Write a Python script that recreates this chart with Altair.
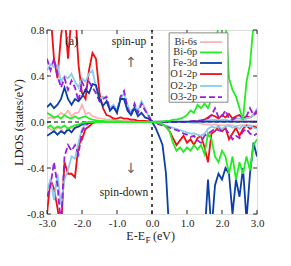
import altair as alt
import pandas as pd

# Energy grid (eV)
E = [-3.0, -2.9, -2.8, -2.7, -2.6, -2.5, -2.4, -2.3, -2.2, -2.1,
     -2.0, -1.9, -1.8, -1.7, -1.6, -1.5, -1.4, -1.3, -1.2, -1.1,
     -1.0, -0.9, -0.8, -0.7, -0.6, -0.5, -0.4, -0.3, -0.2, -0.1,
     0.0, 0.1, 0.2, 0.3, 0.4, 0.5, 0.6, 0.7, 0.8, 0.9,
     1.0, 1.1, 1.2, 1.3, 1.4, 1.5, 1.6, 1.7, 1.8, 1.9,
     2.0, 2.1, 2.2, 2.3, 2.4, 2.5, 2.6, 2.7, 2.8, 2.9, 3.0]

bi6s_up = [0.03, 0.04, 0.03, 0.05, 0.08, 0.06, 0.1, 0.05, 0.08, 0.08,
           0.15, 0.07, 0.08, 0.05, 0.04, 0.03, 0.03, 0.02, 0.02, 0.02,
           0.01, 0.01, 0.01, 0.01, 0.01, 0.01, 0.005, 0.005, 0.005, 0.005,
           0.0, 0.0, 0.0, 0.0, 0.0, 0.0, 0.0, 0.0, 0.0, 0.0,
           0.0, 0.005, 0.005, 0.005, 0.005, 0.005, 0.005, 0.005, 0.005, 0.005,
           0.005, 0.005, 0.005, 0.005, 0.005, 0.005, 0.005, 0.005, 0.005, 0.005, 0.005]
bi6s_dn = [-0.05, -0.06, -0.08, -0.05, -0.06, -0.1, -0.07, -0.05, -0.06, -0.03,
           -0.03, -0.02, -0.01, -0.01, -0.005, 0.0, 0.0, 0.0, 0.0, 0.0,
           0.0, 0.0, 0.0, 0.0, 0.0, 0.0, 0.0, 0.0, 0.0, 0.0,
           0.0, 0.0, 0.0, 0.0, 0.0, 0.0, 0.0, 0.0, 0.0, 0.0,
           0.0, -0.005, -0.01, -0.01, -0.015, -0.02, -0.02, -0.025, -0.02, -0.03,
           -0.03, -0.03, -0.025, -0.03, -0.035, -0.03, -0.03, -0.025, -0.03, -0.035, -0.03]
bi6p_up = [0.08, 0.06, 0.04, 0.05, 0.03, 0.06, 0.04, 0.03, 0.05, 0.03,
           0.04, 0.05, 0.03, 0.02, 0.015, 0.01, 0.01, 0.005, 0.005, 0.005,
           0.005, 0.005, 0.0, 0.0, 0.0, 0.0, 0.0, 0.0, 0.0, 0.0,
           0.0, 0.0, 0.0, 0.005, 0.01, 0.01, 0.02, 0.02, 0.03, 0.04,
           0.06, 0.1, 0.08, 0.15, 0.12, 0.16, 0.12, 0.2, 0.45, 0.9,
           1.0, 0.9, 0.38, 0.28, 0.22, 0.12, 0.02, 0.35, 0.5, 0.85, 1.0]
bi6p_dn = [-0.05, -0.03, -0.06, -0.04, -0.05, -0.03, -0.06, -0.04, -0.03, -0.02,
           -0.01, -0.005, 0.0, 0.0, 0.0, 0.0, 0.0, 0.0, 0.0, 0.0,
           0.0, 0.0, 0.0, 0.0, 0.0, 0.0, 0.0, 0.0, 0.0, 0.0,
           0.0, 0.0, -0.01, -0.02, -0.04, -0.08, -0.18, -0.25, -0.22, -0.26,
           -0.22, -0.25, -0.2, -0.24, -0.2, -0.28, -0.1, -0.15, -0.3, -0.35,
           -0.25, -0.3, -0.45, -0.3, -0.5, -0.35, -0.45, -0.3, -0.42, -0.2, -0.15]
fe3d_up = [0.13, 0.16, 0.12, 0.15, 0.2, 0.3, 0.2, 0.15, 0.2, 0.18,
           0.22, 0.28, 0.25, 0.33, 0.32, 0.2, 0.14, 0.18, 0.1, 0.13,
           0.08, 0.2, 0.2, 0.1, 0.06, 0.12, 0.05, 0.08, 0.04, 0.03,
           0.0, 0.003, 0.003, 0.003, 0.003, 0.003, 0.003, 0.003, 0.003, 0.003,
           0.003, 0.003, 0.003, 0.003, 0.003, 0.003, 0.003, 0.003, 0.003, 0.003,
           0.003, 0.003, 0.003, 0.003, 0.003, 0.003, 0.003, 0.003, 0.003, 0.003, 0.003]
fe3d_dn = [-0.12, -0.1, -0.08, -0.11, -0.08, -0.1, -0.06, -0.09, -0.05, -0.04,
           -0.02, -0.01, -0.005, 0.0, 0.0, 0.0, 0.0, 0.0, 0.0, 0.0,
           0.0, 0.0, 0.0, 0.0, 0.0, 0.0, 0.0, 0.0, 0.0, 0.0,
           0.0, -0.05, -0.12, -0.2, -0.45, -1.0, -1.0, -1.0, -1.0, -1.0,
           -1.0, -1.0, -1.0, -1.0, -1.0, -1.0, -0.5, -0.95, -0.55, -0.45,
           -0.5, -0.4, -0.45, -0.8, -0.5, -0.65, -0.4, -0.85, -0.45, -0.18, -0.3]
o1_up = [0.85, 0.95, 0.55, 0.38, 0.75, 0.95, 0.55, 0.92, 1.0, 0.5,
         0.25, 0.2, 0.45, 0.6, 0.55, 0.25, 0.12, 0.06, 0.05, 0.03,
         0.03, 0.04, 0.03, 0.03, 0.02, 0.02, 0.01, 0.01, 0.01, 0.005,
         0.0, 0.0, 0.0, 0.0, 0.0, 0.0, 0.0, 0.0, 0.0, 0.0,
         0.0, 0.0, 0.005, 0.01, 0.01, 0.02, 0.04, 0.06, 0.05, 0.03,
         0.06, 0.04, 0.07, 0.03, 0.05, 0.06, 0.03, 0.05, 0.04, 0.06, 0.08]
o1_dn = [-0.8, -0.5, -0.58, -0.75, -0.95, -0.35, -0.45, -0.45, -0.48, -0.2,
         -0.15, -0.06, -0.04, -0.01, 0.0, 0.0, 0.0, 0.0, 0.0, 0.0,
         0.0, 0.0, 0.0, 0.0, 0.0, 0.0, 0.0, 0.0, 0.0, 0.0,
         0.0, -0.005, -0.01, -0.02, -0.04, -0.08, -0.14, -0.2, -0.16, -0.12,
         -0.18, -0.15, -0.2, -0.14, -0.12, -0.22, -0.35, -0.1, -0.08, -0.04,
         -0.08, -0.05, -0.15, -0.1, -0.05, -0.12, -0.06, -0.03, -0.06, -0.04, -0.05]
o2_up = [0.45, 0.5, 0.48, 0.5, 0.35, 0.4, 0.38, 0.42, 0.35, 0.3,
         0.38, 0.35, 0.42, 0.45, 0.3, 0.2, 0.22, 0.2, 0.12, 0.15,
         0.1, 0.2, 0.25, 0.15, 0.08, 0.14, 0.1, 0.18, 0.12, 0.05,
         0.0, 0.0, 0.0, 0.0, 0.0, 0.0, 0.0, 0.0, 0.0, 0.0,
         0.0, 0.0, 0.0, 0.005, 0.005, 0.01, 0.01, 0.02, 0.02, 0.01,
         0.02, 0.02, 0.01, 0.02, 0.03, 0.03, 0.02, 0.03, 0.04, 0.06, 0.12]
o2_dn = [-0.6, -0.5, -0.68, -0.45, -0.72, -0.5, -0.42, -0.3, -0.32, -0.18,
         -0.06, -0.02, -0.01, 0.0, 0.0, 0.0, 0.0, 0.0, 0.0, 0.0,
         0.0, 0.0, 0.0, 0.0, 0.0, 0.0, 0.0, 0.0, 0.0, 0.0,
         0.0, -0.005, -0.01, -0.02, -0.03, -0.04, -0.05, -0.06, -0.07, -0.08,
         -0.09, -0.1, -0.1, -0.11, -0.12, -0.1, -0.06, -0.04, -0.05, -0.04,
         -0.06, -0.04, -0.03, -0.05, -0.04, -0.06, -0.03, -0.04, -0.03, -0.05, -0.06]
o3_up = [0.55, 0.45, 0.55, 0.4, 0.3, 0.38, 0.28, 0.36, 0.3, 0.18,
         0.35, 0.28, 0.35, 0.3, 0.25, 0.18, 0.2, 0.22, 0.1, 0.14,
         0.08, 0.22, 0.27, 0.12, 0.06, 0.16, 0.08, 0.16, 0.1, 0.06,
         0.0, 0.0, 0.0, 0.0, 0.0, 0.0, 0.0, 0.0, 0.0, 0.0,
         0.0, 0.005, 0.01, 0.01, 0.015, 0.02, 0.03, 0.06, 0.12, 0.04,
         0.05, 0.1, 0.03, 0.02, 0.04, 0.06, 0.03, 0.05, 0.12, 0.06, 0.1]
o3_dn = [-0.65, -0.55, -0.35, -0.55, -0.9, -0.3, -0.2, -0.25, -0.2, -0.28,
         -0.08, -0.03, -0.01, 0.0, 0.0, 0.0, 0.0, 0.0, 0.0, 0.0,
         0.0, 0.0, 0.0, 0.0, 0.0, 0.0, 0.0, 0.0, 0.0, 0.0,
         0.0, -0.005, -0.02, -0.03, -0.04, -0.05, -0.06, -0.07, -0.08, -0.1,
         -0.11, -0.13, -0.12, -0.16, -0.18, -0.12, -0.1, -0.08, -0.06, -0.07,
         -0.08, -0.06, -0.1, -0.15, -0.12, -0.14, -0.08, -0.06, -0.1, -0.12, -0.1]

labels = ["Bi-6s", "Bi-6p", "Fe-3d", "O1-2p", "O2-2p", "O3-2p"]
colors = ["#ffb3b8", "#22ee22", "#0a3fa8", "#ee1111", "#88ccee", "#9a1ee0"]
series = {
    "Bi-6s": (bi6s_up, bi6s_dn),
    "Bi-6p": (bi6p_up, bi6p_dn),
    "Fe-3d": (fe3d_up, fe3d_dn),
    "O1-2p": (o1_up, o1_dn),
    "O2-2p": (o2_up, o2_dn),
    "O3-2p": (o3_up, o3_dn),
}
draw_order = ["Bi-6s", "O1-2p", "O2-2p", "O3-2p", "Fe-3d", "Bi-6p"]

x_ticks = [-3.0, -2.0, -1.0, 0.0, 1.0, 2.0, 3.0]
y_ticks = [-0.8, -0.4, 0.0, 0.4, 0.8]

FONT = "Liberation Serif"
xs = alt.Scale(domain=[-3, 3], nice=False, zero=False)
ys = alt.Scale(domain=[-0.8, 0.8], nice=False, zero=False)
LBL = "datum.value < 0 ? '-' + format(-datum.value, '.1f') : format(datum.value, '.1f')"
AXX = alt.Axis(values=x_ticks, labelExpr=LBL)
AXY = alt.Axis(values=y_ticks, labelExpr=LBL, titleX=-22, titleY=92)

rows = []
for name, (up, dn) in series.items():
    for e, v in zip(E, up):
        rows.append({"series": name, "spin": "up", "E": e, "v": v})
    for e, v in zip(E, dn):
        rows.append({"series": name, "spin": "down", "E": e, "v": v})
df = pd.DataFrame(rows)


def X(field):
    return alt.X(field, scale=xs, axis=AXX, title=None)


def Y(field):
    return alt.Y(field, scale=ys, axis=AXY, title="LDOS (states/eV)")


layers = []
zero_df = pd.DataFrame({"E": [-3.0, 3.0], "v": [0.0, 0.0]})
layers.append(alt.Chart(zero_df).mark_line(color="black", strokeDash=[4, 3], strokeWidth=1.2)
              .encode(x=X("E:Q"), y=Y("v:Q")))
vline_df = pd.DataFrame({"E": [0.0, 0.0], "v": [-0.8, 0.8]})
layers.append(alt.Chart(vline_df).mark_line(color="#222", strokeDash=[3, 4], strokeWidth=1.6)
              .encode(x=X("E:Q"), y=Y("v:Q")))

for name in draw_order:
    col = colors[labels.index(name)]
    kw = dict(color=col, strokeWidth=1.8, clip=True)
    if name == "O3-2p":
        kw["strokeDash"] = [6, 3]
    layers.append(alt.Chart(df[df.series == name]).mark_line(**kw)
                  .encode(x=X("E:Q"), y=Y("v:Q"), detail="spin:N"))

# inward ticks on all four sides
tick_rows = []
for t in x_ticks:
    tick_rows.append({"E": t, "x2": t, "v": -0.8, "y2": -0.765})
    tick_rows.append({"E": t, "x2": t, "v": 0.8, "y2": 0.765})
for t in y_ticks:
    tick_rows.append({"E": -3.0, "x2": -2.89, "v": t, "y2": t})
    tick_rows.append({"E": 3.0, "x2": 2.89, "v": t, "y2": t})
ticks_df = pd.DataFrame(tick_rows)
layers.append(alt.Chart(ticks_df).mark_rule(color="#222", strokeWidth=1)
              .encode(x=X("E:Q"), x2="x2:Q", y=Y("v:Q"), y2="y2:Q"))

# legend box
box_df = pd.DataFrame({"E": [0.49], "x2": [2.17], "v": [0.775], "y2": [0.172]})
layers.append(alt.Chart(box_df).mark_rect(fill="white", stroke="#888", strokeWidth=1)
              .encode(x=X("E:Q"), x2="x2:Q", y=Y("v:Q"), y2="y2:Q"))
leg_y = [0.695, 0.605, 0.513, 0.417, 0.313, 0.217]
leg_df = pd.DataFrame({"label": labels, "v": leg_y, "E": [1.29] * 6})
layers.append(alt.Chart(leg_df).mark_text(align="right", baseline="middle", font=FONT,
                                          fontSize=10.5, color="#333")
              .encode(x=X("E:Q"), y=Y("v:Q"), text="label:N"))
for i, name in enumerate(labels):
    kw = dict(color=colors[i], strokeWidth=1.8)
    if name == "O3-2p":
        kw["strokeDash"] = [6, 3]
    sub = pd.DataFrame({"E": [1.37], "x2": [2.0], "v": [leg_y[i]]})
    layers.append(alt.Chart(sub).mark_rule(**kw)
                  .encode(x=X("E:Q"), x2="x2:Q", y=Y("v:Q")))

# annotations
ann_df = pd.DataFrame({
    "text": ["(a)", "spin-up", "spin-down"],
    "E": [-2.3, -0.66, -0.8],
    "v": [0.7, 0.7, -0.62],
})
layers.append(alt.Chart(ann_df).mark_text(font=FONT, fontSize=11.5, color="#222", baseline="middle")
              .encode(x=X("E:Q"), y=Y("v:Q"), text="text:N"))
arr_df = pd.DataFrame({"text": ["\u2191", "\u2193"], "E": [-0.6, -0.6], "v": [0.51, -0.41]})
layers.append(alt.Chart(arr_df).mark_text(font="DejaVu Sans", fontSize=14, color="#666",
                                          baseline="middle")
              .encode(x=X("E:Q"), y=Y("v:Q"), text="text:N"))

# x axis title E-E_F (eV)
layers.append(alt.Chart(pd.DataFrame({"t": ["E-E"]})).mark_text(
    font=FONT, fontSize=12, align="right", baseline="alphabetic", color="#222")
    .encode(x=alt.value(98), y=alt.value(210), text="t:N"))
layers.append(alt.Chart(pd.DataFrame({"t": ["F"]})).mark_text(
    font=FONT, fontSize=9, align="left", baseline="alphabetic", color="#222")
    .encode(x=alt.value(98.5), y=alt.value(213), text="t:N"))
layers.append(alt.Chart(pd.DataFrame({"t": ["(eV)"]})).mark_text(
    font=FONT, fontSize=12, align="left", baseline="alphabetic", color="#222")
    .encode(x=alt.value(106), y=alt.value(210), text="t:N"))

chart = alt.layer(*layers).properties(
    width=210, height=184,
    autosize=alt.AutoSizeParams(type="none"),
    padding={"left": 39, "top": 22, "right": 20, "bottom": 40},
).configure_view(stroke="#111", strokeWidth=1.8).configure(background="white").configure_axis(
    ticks=False, domain=False, grid=False, labelFlush=False, labelOverlap=False,
    labelPadding=3, labelFont=FONT, labelFontSize=11, labelColor="#222",
    titleFont=FONT, titleFontSize=12, titleFontWeight="normal", titleColor="#222",
)

chart.save("out.html", embed_options={"renderer": "svg", "actions": False})
